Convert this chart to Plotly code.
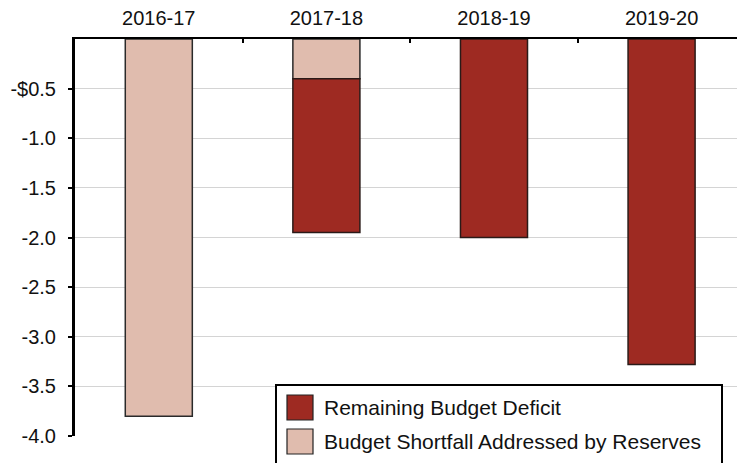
import plotly.graph_objects as go

years = ["2016-17", "2017-18", "2018-19", "2019-20"]
reserves = [-3.8, -0.4, None, None]
remaining = [None, -1.55, -2.0, -3.28]
series_names = ["Remaining Budget Deficit", "Budget Shortfall Addressed by Reserves"]
ytick_vals = [-0.5, -1.0, -1.5, -2.0, -2.5, -3.0, -3.5, -4.0]
ytick_text = ["-$0.5", "-1.0", "-1.5", "-2.0", "-2.5", "-3.0", "-3.5", "-4.0"]

c_remaining = "#9E2A22"
c_reserves = "#E0BCAE"
FONT = "Liberation Sans, Arial, Helvetica, sans-serif"

W, H = 737, 463
ml, mr, mt, mb = 75, 0, 39, 27

fig = go.Figure()
fig.add_trace(go.Bar(x=years, y=reserves, name=series_names[1], width=0.4,
                     marker=dict(color=c_reserves, line=dict(color="#2a2a2a", width=1.5)),
                     showlegend=False))
fig.add_trace(go.Bar(x=years, y=remaining, name=series_names[0], width=0.4,
                     marker=dict(color=c_remaining, line=dict(color="#2a1a18", width=1.5)),
                     showlegend=False))

# manual legend (paper coords)
pw, ph = W - ml - mr, H - mt - mb
def px(x):
    return (x - ml) / pw
def py(y):
    return (H - mb - y) / ph

shapes = [
    dict(type="rect", xref="paper", yref="paper", x0=px(276), x1=px(722), y0=py(480), y1=py(385),
         line=dict(color="black", width=2), fillcolor="white", layer="above"),
]
annotations = []
swatch_cols = [c_remaining, c_reserves]
for i, (nm, col) in enumerate(zip(series_names, swatch_cols)):
    top = 395 + i * 34
    shapes.append(dict(type="rect", xref="paper", yref="paper", x0=px(287), x1=px(313),
                       y0=py(top + 25), y1=py(top), fillcolor=col,
                       line=dict(color="#222", width=1.2), layer="above"))
    annotations.append(dict(xref="paper", yref="paper", x=px(322), y=py(top + 12.5),
                            xanchor="left", yanchor="middle", text=nm, showarrow=False,
                            font=dict(family=FONT, size=21, color="#111")))

fig.update_layout(
    width=W, height=H, margin=dict(l=ml, r=mr, t=mt, b=mb),
    barmode="relative", bargap=0.6,
    plot_bgcolor="white", paper_bgcolor="white",
    font=dict(family=FONT, size=20, color="#111"),
    shapes=shapes, annotations=annotations, showlegend=False,
    xaxis=dict(side="top", range=[-0.5, 3.45], showline=True, linecolor="black", linewidth=2,
               ticks="inside", tickson="boundaries", ticklen=4, tickwidth=2, tickcolor="black",
               showgrid=False, tickfont=dict(size=20, color="#111"), ticklabelstandoff=4),
    yaxis=dict(range=[-4.0, 0], tickvals=ytick_vals, ticktext=ytick_text,
               showline=True, linecolor="black", linewidth=3,
               ticks="outside", ticklen=4, tickwidth=2, tickcolor="black",
               showgrid=True, gridcolor="#d4d4d4", gridwidth=1, zeroline=False,
               tickfont=dict(size=20, color="#111"), ticklabelstandoff=8),
)

fig.write_html("out.html")
